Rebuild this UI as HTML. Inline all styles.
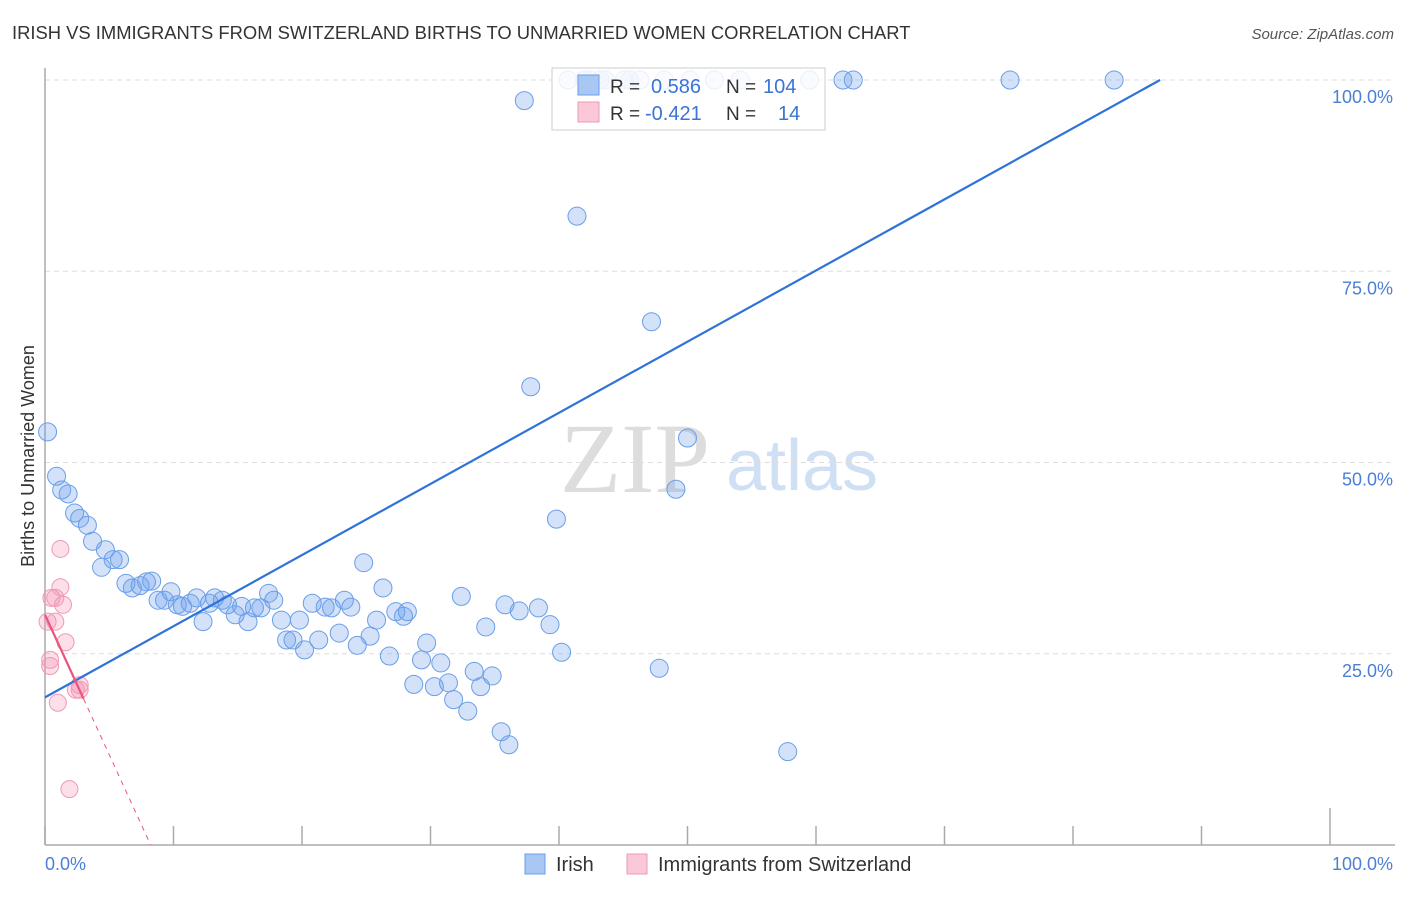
<!DOCTYPE html>
<html><head><meta charset="utf-8">
<style>
body{margin:0;background:#fff;font-family:"Liberation Sans",sans-serif;}
svg text{font-family:"Liberation Sans",sans-serif;}
</style></head>
<body>
<svg id="chart" width="1406" height="892" viewBox="0 0 1406 892" xmlns="http://www.w3.org/2000/svg">
<text x="12" y="39" font-size="18.4" fill="#333">IRISH VS IMMIGRANTS FROM SWITZERLAND BIRTHS TO UNMARRIED WOMEN CORRELATION CHART</text>
<text x="1394" y="39" font-size="15" fill="#555" font-style="italic" text-anchor="end">Source: ZipAtlas.com</text>
<g>
<text x="635" y="492" font-size="100" fill="#ddd" style="font-family:'Liberation Serif',serif" text-anchor="middle">ZIP</text>
<text x="802" y="490" font-size="72" fill="#cfe0f5" text-anchor="middle">atlas</text>
</g>
<g id="grid"></g>
<line x1="45" y1="68" x2="45" y2="845" stroke="#aaa" stroke-width="1.5"/>
<line x1="45" y1="845" x2="1395" y2="845" stroke="#aaa" stroke-width="1.5"/>
<g id="xticks"></g>
<text x="45" y="870" font-size="18" fill="#4a7fd4">0.0%</text>
<text x="1393" y="870" font-size="18" fill="#4a7fd4" text-anchor="end">100.0%</text>
<text transform="translate(34,456) rotate(-90)" font-size="18" fill="#333" text-anchor="middle">Births to Unmarried Women</text>
<g id="points"></g>
<g id="lines"></g>
<g>
<rect x="552" y="68" width="273" height="62" fill="#fff" fill-opacity="0.85" stroke="#ccc"/>
<rect x="578" y="75" width="21" height="20" fill="#a8c8f3" stroke="#6a9ee8"/>
<rect x="578" y="102" width="21" height="20" fill="#fac8d6" stroke="#ef9ab4"/>
<text x="610" y="93" font-size="19" fill="#333">R =</text>
<text x="651" y="93" font-size="20" fill="#3a74d4">0.586</text>
<text x="726" y="93" font-size="19" fill="#333">N =</text>
<text x="763" y="93" font-size="20" fill="#3a74d4">104</text>
<text x="610" y="120" font-size="19" fill="#333">R =</text>
<text x="645" y="120" font-size="20" fill="#3a74d4">-0.421</text>
<text x="726" y="120" font-size="19" fill="#333">N =</text>
<text x="778" y="120" font-size="20" fill="#3a74d4">14</text>
</g>
<g>
<rect x="525" y="854" width="20" height="20" fill="#a8c8f3" stroke="#6a9ee8"/>
<text x="556" y="871" font-size="20" fill="#333">Irish</text>
<rect x="627" y="854" width="20" height="20" fill="#fac8d6" stroke="#ef9ab4"/>
<text x="658" y="871" font-size="20" fill="#333">Immigrants from Switzerland</text>
</g>
</svg>
<script>
const yTicks=[25,50,75,100];
const yTickLabels=["25.0%","50.0%","75.0%","100.0%"];
const xTicks=[0,10,20,30,40,50,60,70,80,90,100];
const irishX=[0.2,0.9,1.3,1.8,2.3,2.7,3.3,3.7,4.4,4.7,5.3,5.8,6.3,6.8,7.4,7.9,8.3,8.8,9.3,9.8,10.3,10.7,11.3,11.8,12.3,12.8,13.2,13.8,14.2,14.8,15.3,15.8,16.3,16.8,17.4,17.8,18.4,18.8,19.3,19.8,20.2,20.8,21.3,21.8,22.3,22.9,23.3,23.8,24.3,24.8,25.3,25.8,26.3,26.8,27.3,27.9,28.2,28.7,29.3,29.7,30.3,30.8,31.4,31.8,32.4,32.9,33.4,33.9,34.3,34.8,35.5,35.8,36.1,36.9,37.3,37.8,38.4,39.3,39.8,40.2,41.4,47.2,47.8,49.1,50.0,57.8,40.7,42.4,43.6,45.1,46.3,48.2,50.2,52.1,54.1,59.5,62.1,62.9,75.1,83.2,43.2,45.5,42.0];
const irishY=[54.0,48.2,46.4,45.9,43.4,42.7,41.8,39.7,36.3,38.6,37.3,37.3,34.2,33.6,33.9,34.4,34.5,32.0,32.0,33.1,31.4,31.2,31.6,32.3,29.2,31.6,32.3,32.0,31.4,30.1,31.2,29.2,31.0,31.0,32.9,32.0,29.4,26.8,26.8,29.4,25.5,31.6,26.8,31.1,31.0,27.7,32.0,31.1,26.1,36.9,27.3,29.4,33.6,24.7,30.5,29.9,30.5,21.0,24.2,26.4,20.7,23.8,21.2,19.0,32.5,17.5,22.7,20.7,28.5,22.1,14.8,31.4,13.1,30.6,97.3,59.9,31.0,28.8,42.6,25.2,82.2,68.4,23.1,46.5,53.2,12.2,100,100,100,100,100,100,100,100,100,100,100,100,100,100,100,100,100];
const swissX=[0.2,0.4,0.4,0.5,0.8,0.8,1.0,1.2,1.2,1.4,1.6,1.9,2.4,2.7,2.7];
const swissY=[29.2,24.2,23.4,32.3,29.2,32.3,18.6,38.7,33.7,31.4,26.5,7.3,20.3,20.9,20.3];
const irishFit=[19.3,0.93];
const swissFit=[30.1,-3.66];

const NS="http://www.w3.org/2000/svg";
const X0=45,X1=1330,Y0=845,Y1=80;
const sx=v=>X0+(X1-X0)*v/100;
const sy=v=>Y0-(Y0-Y1)*v/100;
function mk(tag,attrs,parent){const e=document.createElementNS(NS,tag);for(const k in attrs)e.setAttribute(k,attrs[k]);document.getElementById(parent).appendChild(e);return e;}
yTicks.forEach((t,i)=>{
 const l=mk('line',{x1:45,x2:1395,y1:sy(t),y2:sy(t),stroke:'#ddd','stroke-dasharray':'5,4'},'grid');
 
 
 const tx=mk('text',{x:1393,y:sy(t)+23,'font-size':18,fill:'#4a7fd4','text-anchor':'end'},'grid');
 tx.textContent=yTickLabels[i];
 
 
});
xTicks.forEach(t=>{
 const l=mk('line',{x1:sx(t),x2:sx(t),y1:845,y2:t===100?808:826,stroke:'#aaa','stroke-width':1.5},'xticks');
 
 
});
irishX.forEach((x,i)=>{
 const c=mk('circle',{cx:sx(x),cy:sy(irishY[i]),r:9,fill:'rgba(110,160,235,0.3)',stroke:'#6a9ee8','stroke-width':1},'points');
 
 
});
swissX.forEach((x,i)=>{
 const c=mk('circle',{cx:sx(x),cy:sy(swissY[i]),r:8.5,fill:'rgba(245,150,180,0.3)',stroke:'#ef9ab4','stroke-width':1},'points');
 
 
});
const ix1=(100-irishFit[0])/irishFit[1];
const bl=mk('line',{x1:sx(0),y1:sy(irishFit[0]),x2:sx(ix1),y2:sy(100),stroke:'#2f72d8','stroke-width':2.2},'lines');


const pl=mk('line',{x1:sx(0),y1:sy(swissFit[0]),x2:sx(3),y2:sy(swissFit[0]+swissFit[1]*3),stroke:'#e8557f','stroke-width':2.2},'lines');


const z=-swissFit[0]/swissFit[1];
const pd=mk('line',{x1:sx(3),y1:sy(swissFit[0]+swissFit[1]*3),x2:sx(z),y2:sy(0),stroke:'#e8557f','stroke-width':1,'stroke-dasharray':'5,5'},'lines');


</script>
</body></html>
